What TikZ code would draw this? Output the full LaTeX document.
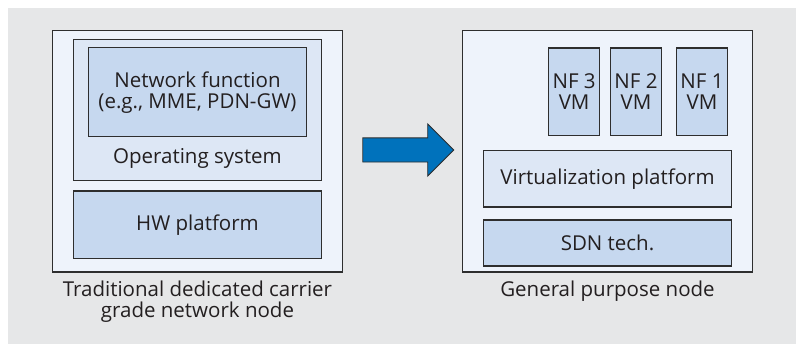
\documentclass[tikz,border=0pt]{standalone}
\usepackage{fontspec}
\setmainfont{Open Sans}
\usetikzlibrary{shapes.arrows}
\definecolor{panelgrey}{HTML}{E6E7E8}
\definecolor{nodefill}{HTML}{EEF3FB}
\definecolor{layerlight}{HTML}{DDE7F5}
\definecolor{layerdark}{HTML}{C6D8EF}
\definecolor{edgegrey}{HTML}{2E2E2E}
\definecolor{inkgrey}{HTML}{231F20}
\definecolor{shiftblue}{HTML}{0072BC}
\tikzset{
	box/.style={draw=edgegrey, line width=1.1pt, inner sep=0pt, text=inkgrey, align=center},
	hostbox/.style={box, fill=nodefill, minimum width=289.6pt, minimum height=241.3pt},
	lightbox/.style={box, fill=layerlight},
	darkbox/.style={box, fill=layerdark},
	vmbox/.style={darkbox, minimum width=51.5pt, minimum height=87.7pt},
	txt/.style={text=inkgrey, inner sep=0pt, align=center}
}
\begin{document}
\begin{tikzpicture}[x=1pt, y=-1pt, font=\fontsize{20.5}{21}\selectfont]
		\useasboundingbox (0,0) rectangle (798,344);
		\fill[panelgrey] (8,8) rectangle (796,344);
		% traditional node
		\node[hostbox] (trad) at (197.5,151.35) {};
		\node[lightbox, minimum width=247.6pt, minimum height=140.6pt] (os) at (197.5,110) {};
		\node[darkbox, minimum width=218.4pt, minimum height=89pt] (nf) at (197.5,92.2) {Network function\\(e.g., MME, PDN-GW)};
		\node[txt] (ostxt) at (197.5,158) {Operating system};
		\node[darkbox, minimum width=247.6pt, minimum height=67.3pt] (hw) at (197.5,224.65) {HW platform};
		\node[txt] (tradlbl) at (197.5,301.5) {Traditional dedicated carrier\\grade network node};
		% general purpose node
		\node[hostbox] (gp) at (607.5,151.35) {};
		\node[vmbox] (vm3) at (574.15,91.85) {NF 3\\VM};
		\node[vmbox] (vm2) at (636,91.85) {NF 2\\VM};
		\node[vmbox] (vm1) at (702,91.85) {NF 1\\VM};
		\node[lightbox, minimum width=247.6pt, minimum height=56.7pt] (virt) at (607.5,178.65) {Virtualization platform};
		\node[darkbox, minimum width=247.6pt, minimum height=46pt] (sdn) at (607.5,243) {SDN tech.};
		\node[txt] (gplbl) at (607.5,291) {General purpose node};
		% migration arrow
		\node[single arrow, draw=edgegrey, line width=0.8pt, fill=shiftblue, inner xsep=0pt, inner ysep=11.7pt,
			single arrow head extend=14pt, minimum height=91pt] (shift) at (402.2,150) {};
\end{tikzpicture}
\end{document}
